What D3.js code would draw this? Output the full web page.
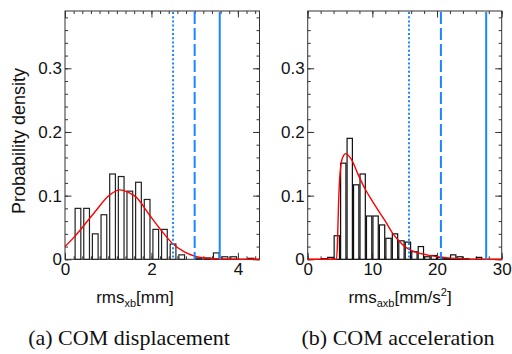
<!DOCTYPE html>
<html>
<head>
<meta charset="utf-8">
<script src="https://cdn.jsdelivr.net/npm/d3@7"></script>
<style>
  body { margin: 0; background: #fff; }
  svg { display: block; }
  .tick text { font-family: "Liberation Sans", Arial, sans-serif; font-size: 17px; fill: #111; }
  .tick line { stroke: #333; stroke-width: 1; }
  .domain { display: none; }
</style>
</head>
<body>
<div id="chart"></div>
<script>
// ---- data ----

// (a) COM displacement, bins 0.2 mm wide
const dispCenters = [0.3, 0.5, 0.7, 0.9, 1.1, 1.3, 1.5, 1.7, 1.9, 2.1, 2.3, 2.5, 2.7, 2.9, 3.1, 3.3, 3.5, 3.7, 3.9, 4.1, 4.3];
const dispDensity = [0.080, 0.080, 0.040, 0.070, 0.134, 0.130, 0.107, 0.121, 0.094, 0.047, 0.047, 0.024, 0.007, 0, 0.002, 0.002, 0.010, 0.004, 0.004, 0, 0.0016];
const dispFitX = [0, 0.2, 0.4, 0.7, 1.0, 1.26, 1.5, 1.64, 1.95, 2.22, 2.5, 2.75, 3.0, 3.25, 3.5, 3.8, 4.5];
const dispFitY = [0.020, 0.034, 0.050, 0.075, 0.099, 0.109, 0.104, 0.098, 0.070, 0.046, 0.024, 0.012, 0.005, 0.002, 0.0008, 0.0002, 0];
const dispLimits = [2.5, 3.0, 3.58];   // dotted, dashed, solid

// (b) COM acceleration, bins 1 mm/s^2 wide (left edges)
const accStarts = [2, 3, 4, 5, 6, 7, 8, 9, 10, 11, 12, 13, 14, 15, 16, 17, 18, 19, 20, 21, 22, 23, 24, 25, 26];
const accDensity = [0.001, 0.003, 0.037, 0.151, 0.190, 0.117, 0.134, 0.068, 0.068, 0.054, 0.033, 0.040, 0.029, 0.027, 0.012, 0.020, 0.004, 0.006, 0.003, 0.001, 0.007, 0.004, 0.001, 0, 0.003];
const accFitX = [0, 4.45, 4.6, 4.75, 5.0, 5.4, 5.9, 6.8, 7.8, 8.9, 9.9, 10.9, 12.0, 13.2, 14.2, 15.0, 16.0, 18.4, 21, 23.5, 26, 30];
const accFitY = [0, 0, 0.025, 0.080, 0.135, 0.160, 0.166, 0.156, 0.133, 0.110, 0.093, 0.077, 0.060, 0.040, 0.028, 0.020, 0.014, 0.007, 0.003, 0.001, 0.0003, 0];
const accLimits = [15.66, 20.6, 27.6];

const yTicks = [0, 0.1, 0.2, 0.3];
const dispTicks = [0, 2, 4];
const accTicks = [0, 10, 20, 30];

// ---- layout ----
const W = 512, H = 354;
const plotTop = 11, plotBottom = 259.3;
const blue = "#1a86ff";

const svg = d3.select("#chart").append("svg")
  .attr("width", W).attr("height", H);

const y = d3.scaleLinear().domain([0, 0.39]).range([plotBottom, plotTop]);

function panel(x0, x1, xMax, xTicks, xMinorStep, showYTitle) {
  const x = d3.scaleLinear().domain([0, xMax]).range([x0, x1]);
  const g = svg.append("g");

  // minor ticks on all four sides
  const xMinor = d3.range(0, xMax + 1e-9, xMinorStep);
  const yMinor = d3.range(0, 0.39, 0.02);
  g.append("g").attr("transform", `translate(0,${plotBottom})`)
    .call(d3.axisBottom(x).tickValues(xMinor).tickSize(-3).tickFormat(""));
  g.append("g").attr("transform", `translate(0,${plotTop})`)
    .call(d3.axisTop(x).tickValues(xMinor).tickSize(-3).tickFormat(""));
  g.append("g").attr("transform", `translate(${x0},0)`)
    .call(d3.axisLeft(y).tickValues(yMinor).tickSize(-3).tickFormat(""));
  g.append("g").attr("transform", `translate(${x1},0)`)
    .call(d3.axisRight(y).tickValues(yMinor).tickSize(-3).tickFormat(""));

  // major ticks with labels
  g.append("g").attr("transform", `translate(0,${plotBottom})`)
    .call(d3.axisBottom(x).tickValues(xTicks).tickSize(-6.5).tickPadding(4).tickFormat(d3.format("d")));
  g.append("g").attr("transform", `translate(0,${plotTop})`)
    .call(d3.axisTop(x).tickValues(xTicks).tickSize(-6.5).tickFormat(""));
  g.append("g").attr("transform", `translate(${x0},0)`)
    .call(d3.axisLeft(y).tickValues(yTicks).tickSize(-6.5).tickPadding(3)
      .tickFormat(d => d === 0 ? "0" : d3.format(".1f")(d)));
  g.append("g").attr("transform", `translate(${x1},0)`)
    .call(d3.axisRight(y).tickValues(yTicks).tickSize(-6.5).tickFormat(""));

  g.append("rect")
    .attr("x", x0).attr("y", plotTop)
    .attr("width", x1 - x0).attr("height", plotBottom - plotTop)
    .attr("fill", "none").attr("stroke", "#333").attr("stroke-width", 1);

  if (showYTitle) {
    svg.append("text")
      .attr("transform", `translate(25,141) rotate(-90)`)
      .attr("text-anchor", "middle")
      .attr("font-family", "Liberation Sans, Arial, sans-serif")
      .attr("font-size", 18)
      .attr("fill", "#111")
      .text("Probability density");
  }
  return { x, g };
}

function limits(p, vals) {
  const dash = ["2,2.2", "12,4", null];
  vals.forEach((v, i) => {
    p.g.append("line")
      .attr("x1", p.x(v)).attr("x2", p.x(v))
      .attr("y1", plotTop + 1).attr("y2", plotBottom)
      .attr("stroke", blue).attr("stroke-width", 2)
      .attr("stroke-dasharray", dash[i]);
  });
}

function fit(p, xs, ys) {
  const line = d3.line()
    .x(d => p.x(d[0])).y(d => y(d[1]))
    .curve(d3.curveMonotoneX);
  p.g.append("path")
    .attr("d", line(d3.zip(xs, ys)))
    .attr("fill", "none").attr("stroke", "#ff0000").attr("stroke-width", 1.4);
}

// ---- (a) ----
const pa = panel(65, 259.5, 4.5, dispTicks, 0.2, true);
const binA = 0.2, fillA = 0.66;
pa.g.append("g").selectAll("rect")
  .data(d3.zip(dispCenters, dispDensity).filter(d => d[1] > 0))
  .join("rect")
  .attr("x", d => pa.x(d[0] - binA * fillA / 2))
  .attr("width", pa.x(binA * fillA) - pa.x(0))
  .attr("y", d => y(d[1]))
  .attr("height", d => plotBottom - y(d[1]))
  .attr("fill", "#fff").attr("stroke", "#222").attr("stroke-width", 1.2);
fit(pa, dispFitX, dispFitY);
limits(pa, dispLimits);

// ---- (b) ----
const pb = panel(307.7, 501.7, 30, accTicks, 2, false);
const fillB = 0.82;
pb.g.append("g").selectAll("rect")
  .data(d3.zip(accStarts, accDensity).filter(d => d[1] > 0))
  .join("rect")
  .attr("x", d => pb.x(d[0] + (1 - fillB) / 2))
  .attr("width", pb.x(fillB) - pb.x(0))
  .attr("y", d => y(d[1]))
  .attr("height", d => plotBottom - y(d[1]))
  .attr("fill", "#fff").attr("stroke", "#111").attr("stroke-width", 1.2);
fit(pb, accFitX, accFitY);
limits(pb, accLimits);

// ---- axis titles ----
function xTitle(cx, main, sub, rest, sup, tail) {
  const t = svg.append("text")
    .attr("x", cx).attr("y", 303)
    .attr("text-anchor", "middle")
    .attr("font-family", "Liberation Sans, Arial, sans-serif")
    .attr("font-size", 17).attr("fill", "#111");
  t.append("tspan").text(main);
  t.append("tspan").attr("font-size", 11).attr("dy", 4).text(sub);
  t.append("tspan").attr("dy", -4).text(rest);
  if (sup) {
    t.append("tspan").attr("font-size", 11).attr("dy", -7).text(sup);
    t.append("tspan").attr("dy", 7).text(tail);
  }
}
xTitle(135, "rms", "xb", "[mm]");
xTitle(400, "rms", "axb", "[mm/s", "2", "]");

// ---- captions ----
const captions = [["(a) COM displacement", 129], ["(b) COM acceleration", 398]];
captions.forEach(([txt, cx]) => {
  svg.append("text")
    .attr("x", cx).attr("y", 345)
    .attr("text-anchor", "middle")
    .attr("font-family", "Liberation Serif, Times New Roman, serif")
    .attr("font-size", 22).attr("fill", "#111")
    .text(txt);
});
</script>
</body>
</html>
